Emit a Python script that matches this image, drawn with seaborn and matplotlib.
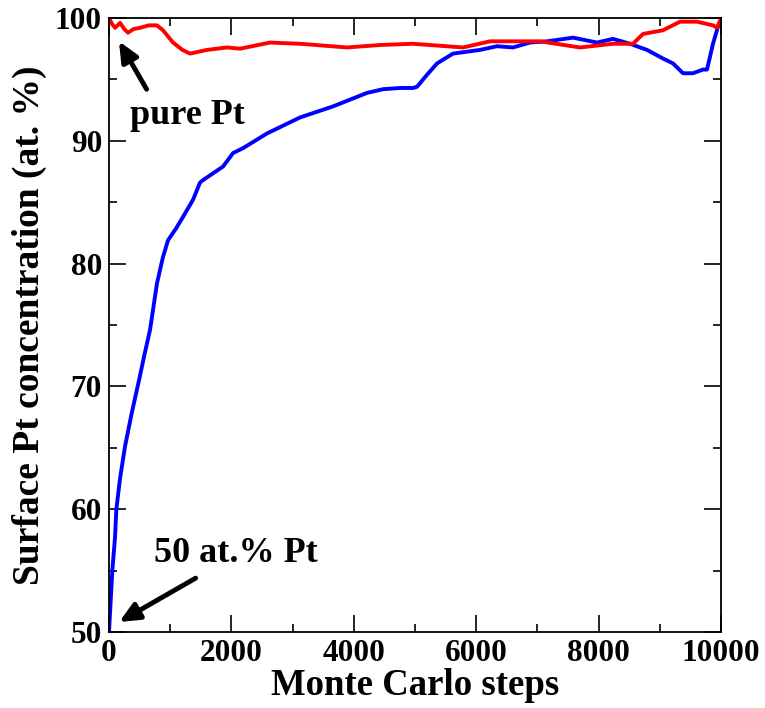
import numpy as np
import pandas as pd
import matplotlib
matplotlib.use("Agg")
import matplotlib.pyplot as plt
import seaborn as sns

# Blue series: starting from 50 at.% Pt
blue_steps = [0, 16, 54, 98, 120, 180, 261, 370, 490, 580, 670, 784, 880, 964, 1100, 1209, 1373, 1487,
              1536, 1863, 2026, 2190, 2582, 3121, 3660, 4216, 4477, 4755, 4967, 5033,
              5200, 5360, 5621, 6062, 6340, 6601, 6879, 7157, 7582, 7974, 8235, 8513,
              8791, 9052, 9216, 9379, 9542, 9706, 9771, 9869, 9951, 10000]
blue_vals = [50.0, 51.5, 55.0, 57.7, 60.0, 62.5, 65.1, 67.8, 70.5, 72.6, 74.6, 78.4, 80.5, 81.9, 82.9, 83.8, 85.2, 86.6,
             86.8, 87.9, 89.0, 89.4, 90.6, 91.9, 92.8, 93.9, 94.2, 94.3, 94.3, 94.4,
             95.4, 96.3, 97.1, 97.4, 97.7, 97.6, 98.0, 98.1, 98.4, 98.0, 98.3, 97.9,
             97.4, 96.7, 96.3, 95.5, 95.5, 95.8, 95.8, 97.9, 99.3, 99.8]

# Red series: starting from pure Pt
red_steps = [0, 50, 100, 180, 250, 310, 400, 506, 650, 784, 882, 1046, 1200, 1324, 1601, 1928,
             2141, 2631, 3121, 3889, 4428, 4967, 5784, 6225, 7042, 7696, 8235, 8562,
             8725, 9052, 9330, 9608, 9869, 9935, 10000]
red_vals = [100.0, 99.5, 99.2, 99.6, 99.1, 98.8, 99.1, 99.2, 99.4, 99.4, 99.0, 98.0, 97.4, 97.1, 97.4, 97.6,
            97.5, 98.0, 97.9, 97.6, 97.8, 97.9, 97.6, 98.1, 98.1, 97.6, 97.9, 97.9,
            98.7, 99.0, 99.7, 99.7, 99.4, 99.2, 100.0]

x_ticks = [0, 2000, 4000, 6000, 8000, 10000]
y_ticks = [50, 60, 70, 80, 90, 100]

sns.set_theme(style="ticks")
plt.rcParams['font.family'] = ['Liberation Serif', 'DejaVu Serif']
plt.rcParams['font.weight'] = 'bold'
plt.rcParams['text.color'] = 'black'
plt.rcParams['axes.labelcolor'] = 'black'
plt.rcParams['xtick.color'] = 'black'
plt.rcParams['ytick.color'] = 'black'

fig = plt.figure(figsize=(7.65, 7.08), dpi=100)
ax = fig.add_axes([0.1425, 0.1073, 0.8, 0.8673])

df_b = pd.DataFrame({"step": blue_steps, "conc": blue_vals})
df_r = pd.DataFrame({"step": red_steps, "conc": red_vals})
sns.lineplot(data=df_b, x="step", y="conc", ax=ax, color=(0, 0, 1), lw=2.8, sort=False)
sns.lineplot(data=df_r, x="step", y="conc", ax=ax, color=(1, 0, 0), lw=2.8, sort=False)

ax.set_xlim(0, 10000)
ax.set_ylim(50, 100)
ax.set_xticks(x_ticks)
ax.set_yticks(y_ticks)
ax.set_xticks(np.arange(0, 10001, 1000), minor=True)
ax.set_yticks(np.arange(50, 101, 5), minor=True)
ax.set_xticklabels([str(t) for t in x_ticks], fontsize=22.5, fontweight='bold')
ax.set_yticklabels([str(t) for t in y_ticks], fontsize=22.5, fontweight='bold')
ax.tick_params(which='major', direction='in', length=12, width=1.2, top=True, right=True, pad=5, colors='black')
ax.tick_params(which='minor', direction='in', length=6, width=1.2, top=True, right=True, colors='black')
for s in ax.spines.values():
    s.set_linewidth(1.3)
    s.set_color('black')

ax.set_xlabel("Monte Carlo steps", fontsize=26.5, fontweight='bold', labelpad=0)
ax.set_ylabel("Surface Pt concentration (at. %)", fontsize=27, fontweight='bold', labelpad=6)

ax.annotate("", xy=(140, 98.3), xytext=(637, 94.0),
            arrowprops=dict(arrowstyle="-|>,head_length=1.0,head_width=0.45", color='black', lw=3.5))
ax.text(1275, 92.1, "pure Pt", fontsize=26, fontweight='bold', ha='center', va='center')

ax.annotate("", xy=(125, 50.7), xytext=(1454, 54.5),
            arrowprops=dict(arrowstyle="-|>,head_length=1.0,head_width=0.45", color='black', lw=3.5))
ax.text(2075, 56.4, "50 at.% Pt", fontsize=26, fontweight='bold', ha='center', va='center')

fig.savefig("out.png", dpi=100)
